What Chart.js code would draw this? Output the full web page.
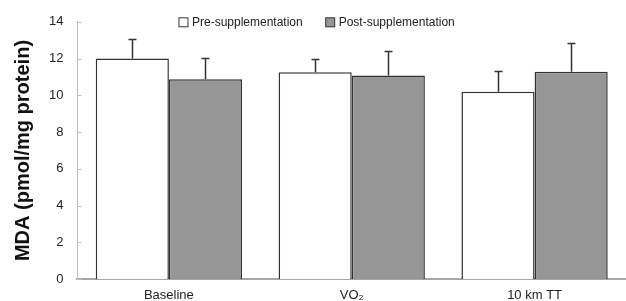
<!DOCTYPE html>
<html><head><meta charset="utf-8">
<script src="https://cdn.jsdelivr.net/npm/chart.js@4/dist/chart.umd.min.js"></script>
<style>html,body{margin:0;padding:0;background:#fff}#wrap{width:626px;height:301px}</style>
</head><body><div id="wrap"><canvas id="c"></canvas></div>
<script>
const categories = ["Baseline", "VO\u2082", "10 km TT"];
const preValues = [12.0, 11.25, 10.2];
const postValues = [10.87, 11.08, 11.28];
const preSD = [1.05, 0.75, 1.12];
const postSD = [1.15, 1.33, 1.55];
const yTicks = [0, 2, 4, 6, 8, 10, 12, 14];

const errorBars = {
  id: 'errorBars',
  afterDatasetsDraw(chart) {
    const ctx = chart.ctx;
    const y = chart.scales.y;
    chart.data.datasets.forEach((ds, di) => {
      const meta = chart.getDatasetMeta(di);
      meta.data.forEach((bar, i) => {
        const v = ds.data[i], sd = ds.sd[i];
        const top = y.getPixelForValue(v), hi = Math.round(y.getPixelForValue(v + sd)) + 0.5;
        const x = Math.round(bar.x) + 0.5;
        ctx.save();
        ctx.strokeStyle = '#333';
        ctx.lineWidth = 1.5;
        ctx.beginPath();
        ctx.moveTo(x, top); ctx.lineTo(x, hi);
        ctx.moveTo(x - 4, hi); ctx.lineTo(x + 4, hi);
        ctx.stroke();
        ctx.restore();
      });
    });
    // inward y-axis tick marks
    const ca = chart.chartArea;
    ctx.save();
    ctx.strokeStyle = '#bfbfbf';
    ctx.lineWidth = 1;
    ctx.beginPath();
    yTicks.forEach(v => {
      const py = Math.round(y.getPixelForValue(v)) + 0.5;
      ctx.moveTo(ca.left, py); ctx.lineTo(ca.left + 4, py);
    });
    ctx.stroke();
    ctx.restore();
  },
  afterDraw(chart) {
    const ctx = chart.ctx;
    const ca = chart.chartArea;
    ctx.save();
    ctx.font = '12px "Liberation Sans"';
    ctx.textBaseline = 'middle';
    ctx.fillStyle = '#222';
    let x = ca.left + 101.5;
    const cy = ca.top + 1;
    chart.data.datasets.forEach(ds => {
      ctx.fillStyle = ds.backgroundColor;
      ctx.fillRect(x, cy - 5, 9, 9);
      ctx.strokeStyle = '#333';
      ctx.lineWidth = 1;
      ctx.strokeRect(x, cy - 5, 9, 9);
      ctx.fillStyle = '#222';
      ctx.fillText(ds.label, x + 13, cy);
      x += 13 + ctx.measureText(ds.label).width + 23;
    });
    ctx.restore();
  }
};

new Chart(document.getElementById('c'), {
  type: 'bar',
  data: {
    labels: categories,
    datasets: [
      { label: 'Pre-supplementation', data: preValues, sd: preSD, backgroundColor: '#ffffff', borderColor: '#333333', borderWidth: 1.5, borderSkipped: 'bottom' },
      { label: 'Post-supplementation', data: postValues, sd: postSD, backgroundColor: '#969696', borderColor: '#333333', borderWidth: 1.5, borderSkipped: 'bottom' }
    ]
  },
  options: {
    responsive: true, maintainAspectRatio: false, animation: false,
    devicePixelRatio: 1,
    layout: { autoPadding: false, padding: { top: 15, right: 0, left: 3, bottom: -10 } },
    categoryPercentage: 0.8, barPercentage: 1.0,
    plugins: {
      tooltip: { enabled: false },
      legend: { display: false }
    },
    scales: {
      x: {
        grid: { display: false, drawTicks: false },
        border: { display: true, color: '#a6a6a6', width: 2 },
        ticks: { font: { family: 'Liberation Sans', size: 13 }, color: '#222', padding: 8 }
      },
      y: {
        min: 0, max: 14,
        afterBuildTicks(s) { s.ticks = yTicks.map(v => ({ value: v })); },
        grid: { display: false, drawTicks: false },
        border: { display: true, color: '#bfbfbf', width: 1 },
        ticks: { font: { family: 'Liberation Sans', size: 13 }, color: '#222', padding: 14 },
        title: { display: true, text: 'MDA (pmol/mg protein)', font: { family: 'Liberation Sans', size: 20, weight: 'bold' }, color: '#111', padding: { top: 8, bottom: 0 } }
      }
    }
  },
  plugins: [errorBars]
});
</script></body></html>
